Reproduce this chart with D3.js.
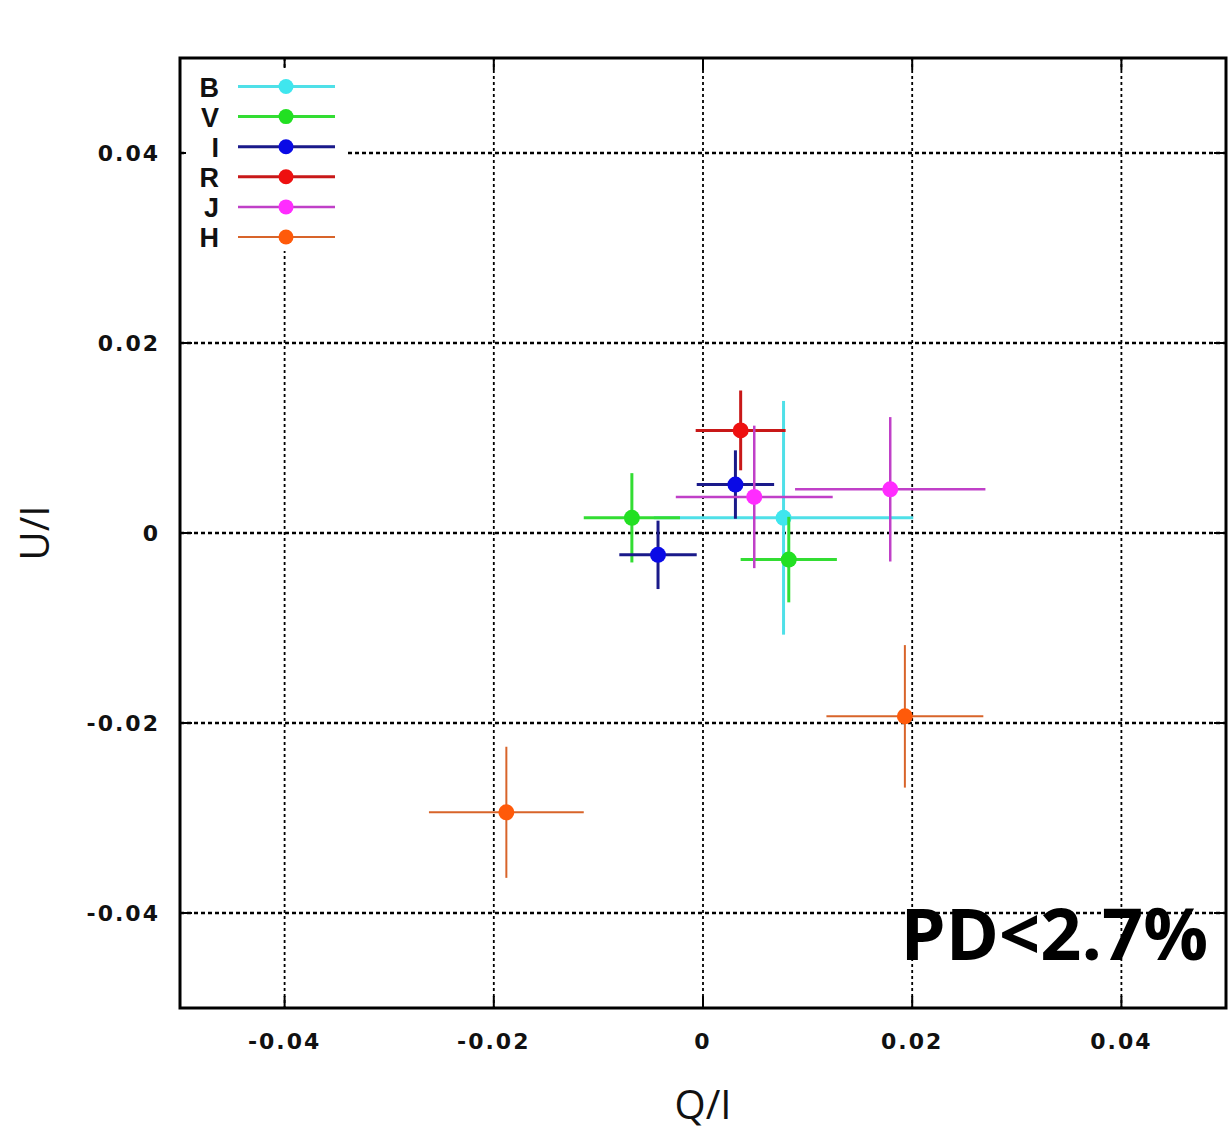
<!DOCTYPE html>
<html>
<head>
<meta charset="utf-8">
<script src="https://cdn.jsdelivr.net/npm/d3@7"></script>
<style>
  body { margin: 0; background: #fff; }
  svg { display: block; }
  .tick-label { font-family: "DejaVu Sans", sans-serif; font-weight: bold; font-size: 22px; fill: #111; }
  .axis-title { font-family: "Open Sans", "Noto Sans", sans-serif; font-size: 40px; fill: #111; }
  .legend-label { font-family: "Liberation Sans", sans-serif; font-weight: bold; font-size: 27px; fill: #111; }
</style>
</head>
<body>
<svg id="chart" width="1228" height="1134"></svg>
<script>
// Bands (legend order) and their colours
var bands = ["B", "V", "I", "R", "J", "H"];
var markerColors = ["#3fe6ee", "#22e022", "#0a0ae6", "#ee1010", "#ff2cff", "#ff5a0a"];
var lineColors = ["#4fe0e8", "#33dd33", "#1a1a8a", "#c81818", "#c040c8", "#d8642a"];
var lineWidths = [3, 3, 3, 3, 2.5, 2];

// Measured points: band, Q/I, U/I and the error half-widths
var pointBand = ["B", "V", "V", "I", "I", "R", "J", "J", "H", "H"];
var qValues = [0.0077, -0.0068, 0.0082, 0.0031, -0.0043, 0.0036, 0.0049, 0.0179, -0.0188, 0.0193];
var uValues = [0.0016, 0.0016, -0.0028, 0.0051, -0.0023, 0.0108, 0.0038, 0.0046, -0.0294, -0.0193];
var qErrors = [0.0124, 0.0046, 0.0046, 0.0037, 0.0037, 0.0043, 0.0075, 0.0091, 0.0074, 0.0075];
var uErrors = [0.0123, 0.0047, 0.0045, 0.0036, 0.0036, 0.0042, 0.0075, 0.0076, 0.0069, 0.0075];

// Axis ticks
var tickValues = [-0.04, -0.02, 0, 0.02, 0.04];
var tickLabels = ["-0.04", "-0.02", "0", "0.02", "0.04"];

var svg = d3.select("#chart");

var x = d3.scaleLinear().domain([-0.05, 0.05]).range([180, 1226]);
var y = d3.scaleLinear().domain([-0.05, 0.05]).range([1008, 58]);

// Grid lines
var grid = svg.append("g").attr("stroke", "#000").attr("fill", "none");
grid.selectAll("line.vgrid").data(tickValues).enter().append("line")
    .attr("class", "vgrid")
    .attr("x1", (d) => x(d)).attr("x2", (d) => x(d))
    .attr("y1", y(0.05)).attr("y2", y(-0.05))
    .attr("stroke-width", 1.8)
    .attr("stroke-dasharray", "3,3");
grid.selectAll("line.hgrid").data(tickValues).enter().append("line")
    .attr("class", "hgrid")
    .attr("y1", (d) => y(d)).attr("y2", (d) => y(d))
    .attr("x1", x(-0.05)).attr("x2", x(0.05))
    .attr("stroke-width", 2.4)
    .attr("stroke-dasharray", "4,3");

// Ticks pointing inwards on all four sides
var ticks = svg.append("g").attr("stroke", "#000").attr("stroke-width", 2);
ticks.selectAll("line.tb").data(tickValues).enter().append("line")
    .attr("x1", (d) => x(d)).attr("x2", (d) => x(d))
    .attr("y1", y(-0.05)).attr("y2", y(-0.05) - 12);
ticks.selectAll("line.tt").data(tickValues).enter().append("line")
    .attr("x1", (d) => x(d)).attr("x2", (d) => x(d))
    .attr("y1", y(0.05)).attr("y2", y(0.05) + 12);
ticks.selectAll("line.tl").data(tickValues).enter().append("line")
    .attr("y1", (d) => y(d)).attr("y2", (d) => y(d))
    .attr("x1", x(-0.05)).attr("x2", x(-0.05) + 12);
ticks.selectAll("line.tr").data(tickValues).enter().append("line")
    .attr("y1", (d) => y(d)).attr("y2", (d) => y(d))
    .attr("x1", x(0.05)).attr("x2", x(0.05) - 12);

// Tick labels
svg.append("g").selectAll("text").data(tickValues).enter().append("text")
    .attr("class", "tick-label")
    .attr("x", (d) => x(d))
    .attr("y", 1049)
    .attr("text-anchor", "middle")
    .attr("letter-spacing", 2)
    .text((d, i) => tickLabels[i]);
svg.append("g").selectAll("text").data(tickValues).enter().append("text")
    .attr("class", "tick-label")
    .attr("x", 160)
    .attr("y", (d) => y(d) + 8)
    .attr("text-anchor", "end")
    .attr("letter-spacing", 2)
    .text((d, i) => tickLabels[i]);

// Error bars and points, series by series
var points = qValues.map((q, i) => ({band: pointBand[i], q: q, u: uValues[i], dq: qErrors[i], du: uErrors[i]}));
var plot = svg.append("g");
bands.forEach(function(band, b) {
    var pts = points.filter((p) => p.band === band);
    var g = plot.append("g");
    var bars = g.selectAll("g").data(pts).enter().append("g")
        .attr("stroke", lineColors[b])
        .attr("stroke-width", lineWidths[b]);
    bars.append("line")
        .attr("x1", (d) => x(d.q - d.dq)).attr("x2", (d) => x(d.q + d.dq))
        .attr("y1", (d) => y(d.u)).attr("y2", (d) => y(d.u));
    bars.append("line")
        .attr("x1", (d) => x(d.q)).attr("x2", (d) => x(d.q))
        .attr("y1", (d) => y(d.u - d.du)).attr("y2", (d) => y(d.u + d.du));
    g.selectAll("circle").data(pts).enter().append("circle")
        .attr("cx", (d) => x(d.q)).attr("cy", (d) => y(d.u))
        .attr("r", 8)
        .attr("fill", markerColors[b]);
});

// Legend
var legend = svg.append("g");
legend.append("rect")
    .attr("x", 186).attr("y", 68).attr("width", 160).attr("height", 183)
    .attr("fill", "#fff");
var items = legend.selectAll("g.item").data(bands).enter().append("g")
    .attr("class", "item")
    .attr("transform", (d, i) => "translate(0," + (86.5 + i * 30.1) + ")");
items.append("text")
    .attr("class", "legend-label")
    .attr("x", 219).attr("y", 10)
    .attr("text-anchor", "end")
    .text((d) => d);
items.append("line")
    .attr("x1", 238).attr("x2", 335)
    .attr("stroke", (d, i) => lineColors[i])
    .attr("stroke-width", (d, i) => lineWidths[i]);
items.append("circle")
    .attr("cx", 286).attr("r", 7.5)
    .attr("fill", (d, i) => markerColors[i]);

// Frame
svg.append("rect")
    .attr("x", x(-0.05)).attr("y", y(0.05))
    .attr("width", x(0.05) - x(-0.05)).attr("height", y(-0.05) - y(0.05))
    .attr("fill", "none").attr("stroke", "#000").attr("stroke-width", 3);

// Axis titles
svg.append("text").attr("class", "axis-title")
    .attr("x", 703).attr("y", 1119)
    .attr("text-anchor", "middle")
    .text("Q/I");
svg.append("text").attr("class", "axis-title")
    .attr("transform", "translate(49,533) rotate(-90)")
    .attr("text-anchor", "middle")
    .text("U/I");

// Upper limit annotation
svg.append("text")
    .attr("x", 1208).attr("y", 960)
    .attr("text-anchor", "end")
    .style("font-family", "'Open Sans', 'Noto Sans', sans-serif")
    .style("font-weight", "bold")
    .style("font-size", "72px")
    .attr("fill", "#000")
    .text("PD<2.7%");
</script>
</body>
</html>
